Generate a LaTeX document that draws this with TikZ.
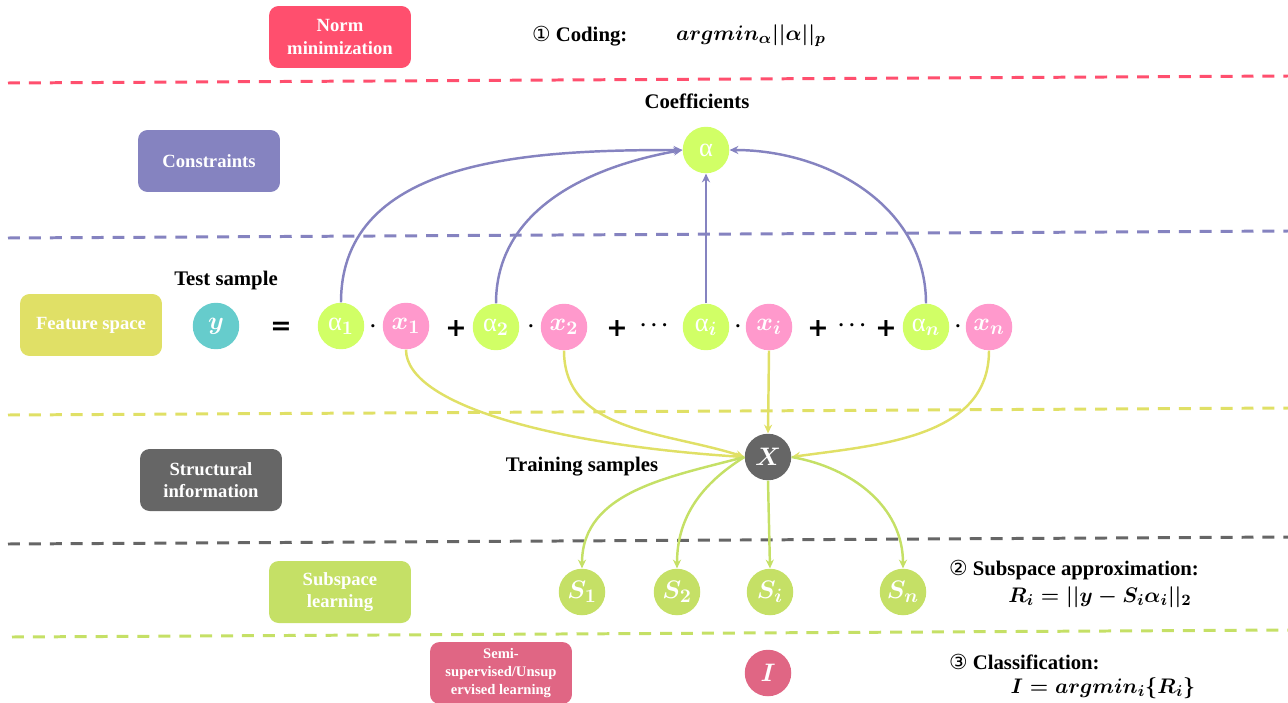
\documentclass[tikz,border=0pt]{standalone}
\usepackage{fontspec}
\setmainfont{Liberation Serif}
\newfontfamily\circfont{DejaVu Sans}
\usepackage{xcolor}
\usetikzlibrary{arrows.meta}

\definecolor{normred}{RGB}{255,79,110}
\definecolor{conpurple}{RGB}{133,131,192}
\definecolor{featyellow}{RGB}{224,224,102}
\definecolor{structgray}{RGB}{102,102,102}
\definecolor{subgreen}{RGB}{197,224,102}
\definecolor{semipink}{RGB}{224,102,132}
\definecolor{coeflime}{RGB}{209,255,102}
\definecolor{samppink}{RGB}{255,153,204}
\definecolor{testteal}{RGB}{102,204,204}

\begin{document}
\begin{tikzpicture}[x=0.02cm, y=0.02cm,
  tagbox/.style={rounded corners=5.5pt, minimum width=2.84cm, minimum height=1.24cm,
    inner sep=2pt, align=center, text=white, font=\fontsize{10.6}{12.9}\selectfont\bfseries},
  ball/.style={circle, minimum size=0.93cm, inner sep=0pt, text=white,
    font=\fontsize{15}{17}\selectfont\boldmath},
  op/.style={inner sep=0pt, font=\fontsize{14.5}{15}\selectfont\circfont\bfseries},
  mop/.style={inner sep=0pt, font=\fontsize{13}{15}\selectfont\boldmath},
  lbl/.style={inner sep=1pt, font=\fontsize{11.8}{14}\selectfont\bfseries},
  formula/.style={inner sep=1pt, font=\fontsize{12.5}{14}\selectfont\boldmath},
  sep/.style={line width=1.7pt, dash pattern=on 6.8pt off 5.1pt},
  link/.style={line width=1.4pt, -{Stealth[length=5pt, width=4.6pt]}}]
\useasboundingbox (0,0) rectangle (1288,-703);

% Layer separators
\draw[sep, normred] (8,-83) -- (1288,-76);
\draw[sep, conpurple] (8,-238) -- (1288,-231);
\draw[sep, featyellow] (8,-415) -- (1288,-408);
\draw[sep, structgray] (8,-544) -- (1288,-537);
\draw[sep, subgreen] (12,-637) -- (1288,-630);

% Layer names
\node[tagbox, fill=normred] (norm) at (340,-37) {Norm\\minimization};
\node[tagbox, fill=conpurple] (constr) at (209,-161) {Constraints};
\node[tagbox, fill=featyellow] (feat) at (91,-325) {Feature space};
\node[tagbox, fill=structgray] (struct) at (211,-480) {Structural\\information};
\node[tagbox, fill=subgreen] (sublearn) at (340,-592) {Subspace\\learning};
\node[tagbox, fill=semipink, font=\fontsize{8.3}{10}\selectfont\bfseries] (semi) at (501,-673)
  {Semi-\\supervised/Unsup\\ervised learning};

% Coding
\node[lbl, anchor=west] (coding) at (530,-36) {{\circfont\mdseries ①} Coding:};
\node[formula, anchor=west] (codefun) at (674,-36) {$argmin_{\alpha}||\alpha||_{p}$};

% Coefficients
\node[lbl] (coef) at (697,-101) {Coefficients};
\node[ball, fill=coeflime] (alpha) at (706,-150) {α};

% Feature space equation
\node[lbl] (test) at (226,-281) {Test sample};
\node[ball, fill=testteal] (y) at (216,-326) {$y$};
\node[op] (eq) at (281,-328) {=};
\node[ball, fill=coeflime] (a1) at (341,-326) {α$_1$};
\node[ball, fill=samppink] (x1) at (406,-326) {$x_1$};
\node[op] (plus1) at (456,-329) {+};
\node[ball, fill=coeflime] (a2) at (496,-327) {α$_2$};
\node[ball, fill=samppink] (x2) at (564,-327) {$x_2$};
\node[op] (plus2) at (617,-329) {+};
\node[mop] (dots1) at (654,-326) {$\cdots$};
\node[ball, fill=coeflime] (ai) at (706,-327) {α$_i$};
\node[ball, fill=samppink] (xi) at (769,-327) {$x_i$};
\node[op] (plus3) at (818,-329) {+};
\node[mop] (dots2) at (852,-326) {$\cdots$};
\node[op] (plus4) at (886,-329) {+};
\node[ball, fill=coeflime] (an) at (926,-327) {α$_n$};
\node[ball, fill=samppink] (xn) at (989,-327) {$x_n$};
\foreach \px [count=\k] in {373,531,738,958}
  \node[mop] (dot\k) at (\px,-327) {$\cdot$};

% Training samples and subspaces
\node[lbl] (train) at (582,-467) {Training samples};
\node[ball, fill=structgray] (X) at (768,-457) {$X$};
\node[ball, fill=subgreen] (S1) at (582,-592) {$S_1$};
\node[ball, fill=subgreen] (S2) at (677,-592) {$S_2$};
\node[ball, fill=subgreen] (Si) at (770,-592) {$S_i$};
\node[ball, fill=subgreen] (Sn) at (903,-592) {$S_n$};
\node[ball, fill=semipink] (I) at (768,-673) {$I$};

% Steps 2 and 3
\node[lbl, anchor=west] (approx) at (947,-570) {{\circfont\mdseries ②} Subspace approximation:};
\node[formula] (approxfun) at (1100,-597) {$R_i=||y-S_i\alpha_i||_2$};
\node[lbl, anchor=west] (classif) at (947,-662) {{\circfont\mdseries ③} Classification:};
\node[formula] (classfun) at (1103,-688) {$I=argmin_i\{R_i\}$};

% Coefficients to alpha
\draw[link, conpurple] (a1.north) to[out=90, in=180] (alpha.west);
\draw[link, conpurple] (a2.north) to[out=90, in=190] (alpha.west);
\draw[link, conpurple] (ai.north) -- (alpha.south);
\draw[link, conpurple] (an.north) to[out=90, in=0] (alpha.east);

% Samples to X
\draw[link, featyellow] (x1.south) .. controls +(0,-55) and +(-190,12) .. (X.west);
\draw[link, featyellow] (x2.south) to[out=-90, in=162] (X.west);
\draw[link, featyellow] (xi.south) -- (X.north);
\draw[link, featyellow] (xn.south) to[out=-90, in=8] (X.east);

% X to subspaces
\draw[link, subgreen] (X.west) to[out=195, in=90] (S1.north);
\draw[link, subgreen] (X.west) to[out=212, in=90] (S2.north);
\draw[link, subgreen] (X.south) -- (Si.north);
\draw[link, subgreen] (X.east) to[out=-10, in=90] (Sn.north);
\end{tikzpicture}
\end{document}
